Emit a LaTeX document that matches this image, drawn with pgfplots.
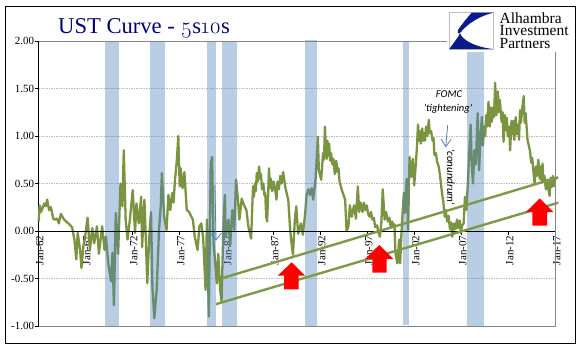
\documentclass[border=0pt]{standalone}
\usepackage{fontspec}
\setmainfont{Liberation Serif}
\newfontfamily\calib{Carlito}
\newfontfamily\oldnum[Numbers=OldStyle]{Latin Modern Roman}
\usepackage{pgfplots}
\pgfplotsset{compat=1.18}
\definecolor{cv}{HTML}{7A9440}
\definecolor{tr}{HTML}{7F9A47}
\definecolor{bd}{HTML}{4F81BD}
\definecolor{gl}{HTML}{BDBDBD}
\definecolor{ax}{HTML}{868686}
\definecolor{navy}{HTML}{0A1A8C}
\pgfplotstableread{
x y
1962.0 0.10
1962.1 0.27
1962.25 0.20
1962.4 0.24
1962.6 0.29
1962.75 0.26
1962.9 0.33
1963.1 0.22
1963.3 0.25
1963.55 0.13
1963.7 0.12
1963.95 0.13
1964.15 0.08
1964.35 0.18
1964.7 0.12
1965.15 0.08
1965.55 0.04
1965.8 -0.09
1966.0 -0.30
1966.15 -0.02
1966.4 -0.20
1966.55 -0.39
1966.75 -0.16
1966.9 -0.09
1967.2 0.14
1967.45 -0.20
1967.7 0.03
1967.9 -0.13
1968.2 0.05
1968.4 -0.24
1968.75 0.05
1969.0 -0.20
1969.15 -0.06
1969.4 -0.34
1969.7 -0.53
1969.85 -0.23
1970.0 -0.78
1970.2 0.19
1970.45 -0.24
1970.7 0.50
1970.9 0.26
1971.05 0.85
1971.25 0.12
1971.45 -0.09
1971.7 0.12
1972.0 0.43
1972.25 -0.02
1972.4 0.29
1972.65 0.08
1972.9 0.36
1973.0 -0.17
1973.25 0.33
1973.4 -0.10
1973.55 -0.55
1973.8 0.01
1973.95 0.20
1974.1 -0.59
1974.3 -0.92
1974.55 -0.62
1974.8 0.01
1975.0 0.29
1975.1 0.61
1975.35 0.15
1975.6 0.01
1975.8 0.38
1976.0 0.22
1976.2 0.40
1976.35 0.30
1976.5 0.54
1976.7 0.75
1976.85 1.0
1977.0 0.47
1977.1 0.66
1977.3 0.45
1977.5 0.62
1977.75 0.22
1978.0 0.20
1978.4 0.12
1978.6 -0.06
1978.9 -0.20
1979.1 0.05
1979.3 0.08
1979.5 -0.08
1979.75 -0.62
1979.9 0.12
1980.1 -0.90
1980.3 0.71
1980.45 0.78
1980.6 -0.13
1980.7 -0.24
1980.95 -0.55
1981.1 -0.24
1981.3 -0.62
1981.45 -0.74
1981.65 0.05
1981.8 0.38
1981.9 -0.06
1982.2 0.12
1982.35 -0.16
1982.6 0.22
1982.8 0.01
1983.0 0.54
1983.2 0.33
1983.35 0.12
1983.6 0.34
1983.85 0.27
1984.1 0.22
1984.3 0.05
1984.6 -0.08
1984.8 0.47
1984.9 0.36
1985.0 0.50
1985.1 0.42
1985.2 0.61
1985.3 0.52
1985.45 0.68
1985.55 0.55
1985.65 0.60
1985.75 0.44
1985.9 0.50
1986.0 0.38
1986.1 0.40
1986.2 0.15
1986.3 0.10
1986.4 0.35
1986.5 0.66
1986.6 0.45
1986.7 0.55
1986.85 0.42
1987.0 0.52
1987.15 0.44
1987.3 0.33
1987.4 0.52
1987.55 0.44
1987.7 0.58
1987.85 0.50
1988.0 0.62
1988.15 0.52
1988.25 0.45
1988.55 0.33
1988.75 0.01
1988.9 -0.13
1989.05 -0.25
1989.25 0.12
1989.4 0.26
1989.6 -0.03
1989.9 0.08
1990.1 -0.04
1990.35 0.19
1990.5 0.38
1990.7 0.44
1990.85 0.38
1991.05 0.45
1991.2 0.33
1991.45 0.54
1991.7 0.99
1991.8 0.64
1992.05 0.54
1992.25 0.82
1992.35 0.75
1992.45 1.10
1992.55 0.85
1992.65 0.76
1992.72 0.95
1992.8 0.80
1992.9 0.92
1993.0 0.74
1993.1 0.82
1993.25 0.70
1993.35 0.76
1993.5 0.60
1993.65 0.74
1993.8 0.62
1993.9 0.66
1994.0 0.52
1994.25 0.43
1994.6 0.33
1994.75 0.0
1994.95 0.05
1995.1 0.27
1995.3 0.15
1995.55 0.27
1995.75 0.13
1995.95 0.47
1996.1 0.20
1996.25 0.30
1996.45 0.20
1996.6 0.30
1996.75 0.22
1996.9 0.27
1997.05 0.18
1997.2 0.15
1997.35 0.20
1997.5 0.12
1997.65 0.14
1997.8 0.04
1998.0 0.06
1998.15 -0.02
1998.3 -0.06
1998.45 0.08
1998.6 0.44
1998.8 0.12
1998.95 0.20
1999.15 0.10
1999.3 0.14
1999.45 0.04
1999.6 0.10
1999.75 0.04
1999.85 0.07
1999.95 -0.23
2000.15 -0.34
2000.35 -0.09
2000.45 -0.34
2000.6 -0.01
2000.75 0.26
2000.85 0.40
2000.95 0.19
2001.15 0.55
2001.3 0.01
2001.45 0.78
2001.65 0.57
2001.8 0.76
2001.95 0.48
2002.15 0.75
2002.25 0.90
2002.35 1.12
2002.45 0.95
2002.55 1.05
2002.65 0.92
2002.8 1.08
2002.9 0.95
2003.0 1.03
2003.1 0.95
2003.2 1.10
2003.35 1.00
2003.5 1.17
2003.6 1.03
2003.75 1.05
2003.9 0.95
2004.0 0.98
2004.1 0.80
2004.25 0.82
2004.4 0.72
2004.55 0.68
2004.7 0.58
2004.9 0.40
2005.05 0.30
2005.2 0.15
2005.3 0.22
2005.45 0.10
2005.6 0.16
2005.75 0.02
2005.9 0.09
2006.0 -0.06
2006.2 0.08
2006.35 0.02
2006.5 0.12
2006.6 0.03
2006.8 0.11
2006.9 -0.02
2007.05 0.06
2007.2 0.08
2007.35 0.36
2007.5 0.22
2007.65 0.50
2007.8 0.82
2007.95 1.12
2008.05 0.75
2008.2 0.50
2008.35 0.85
2008.5 0.70
2008.7 1.24
2008.85 0.64
2009.0 0.99
2009.15 1.20
2009.25 0.90
2009.4 1.10
2009.5 1.00
2009.6 1.22
2009.7 1.10
2009.85 1.36
2010.0 1.10
2010.1 1.30
2010.2 1.15
2010.35 1.30
2010.45 1.20
2010.55 1.56
2010.7 1.22
2010.85 1.47
2010.95 1.25
2011.05 1.38
2011.25 1.15
2011.35 1.25
2011.45 0.94
2011.6 1.22
2011.7 1.06
2011.8 1.19
2011.9 1.00
2012.05 1.10
2012.15 0.85
2012.3 1.16
2012.4 1.02
2012.5 1.16
2012.6 0.96
2012.75 1.20
2012.85 1.02
2013.0 1.12
2013.1 0.96
2013.2 1.27
2013.3 1.14
2013.45 1.30
2013.6 1.42
2013.7 1.14
2013.8 1.24
2014.0 0.96
2014.25 0.85
2014.4 0.72
2014.5 0.77
2014.75 0.50
2014.9 0.68
2015.0 0.58
2015.15 0.75
2015.3 0.55
2015.4 0.68
2015.5 0.53
2015.6 0.71
2015.7 0.52
2015.8 0.58
2015.95 0.44
2016.1 0.54
2016.25 0.42
2016.35 0.37
2016.45 0.56
2016.55 0.46
2016.7 0.58
2016.8 0.47
2017.0 0.57
}\curve
\pgfplotsset{band/.style={fill=bd,fill opacity=0.4,draw=none,forget plot}}
\begin{document}
\begin{tikzpicture}[x=1bp,y=1bp]
\useasboundingbox (0,0) rectangle (587,361);
\begin{axis}[
  at={(38.7bp,35bp)},anchor=south west,scale only axis,
  width=517bp,height=285bp,
  xmin=1962,xmax=2017,ymin=-1,ymax=2,
  clip=false,
  axis x line=middle,axis y line=left,
  hide obscured x ticks=false,
  axis line style={black,line width=0.9bp,-},
  x axis line style={-},y axis line style={-},
  xtick={1962,1967,1972,1977,1982,1987,1992,1997,2002,2007,2012,2017},
  xticklabels={Jan-62,Jan-67,Jan-72,Jan-77,Jan-82,Jan-87,Jan-92,Jan-97,Jan-02,Jan-07,Jan-12,Jan-17},
  ytick={-1,-0.5,0,0.5,1,1.5,2},
  yticklabels={-1.00,-0.50,0.00,0.50,1.00,1.50,2.00},
  tick align=outside,
  tick style={black,line width=0.8bp},
  major tick length=3.5bp,
  x tick label style={rotate=90,anchor=east,font=\fontsize{11bp}{12bp}\selectfont,inner sep=1bp,yshift=-1bp},
  y tick label style={font=\fontsize{11bp}{12bp}\selectfont,inner sep=1bp},
  ymajorgrids,
  grid style={gl,dash pattern=on 1.5bp off 1bp,line width=0.6bp},
]
\addplot[cv,line width=2.3bp,line join=round] table[x=x,y=y] {\curve};
\addplot[band] coordinates {(1969.05,-1)(1969.05,2)(1970.54,2)(1970.54,-1)} -- cycle;
\addplot[band] coordinates {(1973.84,-1)(1973.84,2)(1975.44,2)(1975.44,-1)} -- cycle;
\addplot[band] coordinates {(1979.9,-1)(1979.9,2)(1980.86,2)(1980.86,-1)} -- cycle;
\addplot[band] coordinates {(1981.5,-1)(1981.5,2)(1983.1,2)(1983.1,-1)} -- cycle;
\addplot[band] coordinates {(1990.33,-1)(1990.33,2.01)(1991.6,2.01)(1991.6,-1)} -- cycle;
\addplot[band] coordinates {(2000.77,-0.99)(2000.77,2)(2001.4,2)(2001.4,-0.99)} -- cycle;
\addplot[band] coordinates {(2007.56,-1)(2007.56,2)(2009.37,2)(2009.37,-1)} -- cycle;
\addplot[black,line width=0.9bp,forget plot] coordinates {(1962,0)(2017,0)};
\addplot[tr,line width=2.4bp] coordinates {(1981.47,-0.498)(2017.28,0.565)};
\addplot[tr,line width=2.4bp] coordinates {(1980.86,-0.77)(2017.28,0.298)};
\end{axis}
\begin{scope}[shift={(0,361)},y=-1bp,x=1bp]
% frame lines
\draw[ax,line width=0.9bp] (38.7,41)--(447,41);
\draw[ax,line width=0.9bp] (38.7,326)--(555.7,326);
\fill[white] (447,7) rectangle (574.5,51.5);
\draw[ax,line width=0.9bp] (555.7,52)--(555.7,326);
\draw[black,line width=1bp] (5.5,6.5) rectangle (575.7,343.5);
% red arrows
\fill[red] (291.7,262.3)--(305,275.7)--(298.7,275.7)--(298.7,289.3)--(284,289.3)--(284,275.7)--(277.7,275.7)--cycle;
\fill[red] (379.3,245)--(393.3,259)--(386.7,259)--(386.7,272.7)--(372.3,272.7)--(372.3,259)--(365,259)--cycle;
\fill[red] (539.7,198.3)--(553.3,212)--(547,212)--(547,225.7)--(532.3,225.7)--(532.3,212)--(526,212)--cycle;
% blue arrows
\draw[bd,line width=0.8bp] (447.7,125)--(445.7,146.7);
\draw[bd,line width=0.8bp] (441,139)--(445.7,146.7)--(451,139.5);
\draw[bd,line width=0.8bp] (215,185)--(216,240);
\draw[bd,line width=0.8bp] (210,233)--(216,240)--(221.5,233);
% annotations
\node[font=\calib\itshape\fontsize{10.5bp}{12bp}\selectfont,text=black,inner sep=0] at (449,94) {FOMC};
\node[font=\calib\itshape\fontsize{10.5bp}{12bp}\selectfont,text=black,inner sep=0] at (448,109) {'tightening'};
\node[font=\calib\itshape\fontsize{11bp}{12bp}\selectfont,text=black,inner sep=0,rotate=-90] at (451,177) {'conundrum'};
% title
\node[anchor=base west,inner sep=0,text={rgb,255:red,0;green,0;blue,128},font=\fontsize{22.6bp}{24bp}\selectfont] at (58,33) {UST Curve - {\oldnum 5}s{\oldnum 10}s};
% logo
\draw[gray!50,line width=0.8bp,fill=white] (449.3,12.7) rectangle (493.3,49);
\fill[navy] (471.7,12.7)--(493.3,12.7) .. controls (480,16) and (468,23) .. (460,33) .. controls (459,34) and (457,34) .. (458,30) .. controls (462,24) and (467,18) .. cycle;
\fill[navy] (449.3,49)--(458,37)--(460,33) .. controls (462,40) and (475,47) .. (492.7,49)--cycle;
\tikzset{lg/.style={anchor=base west,inner sep=0,text height=9bp,text depth=1.5bp,font=\fontsize{15.5bp}{16bp}\selectfont}}
\node[lg] at (499.5,23) {Alhambra};
\node[lg] at (499.5,35.5) {Investment};
\node[lg] at (499.5,48) {Partners};
\end{scope}
\end{tikzpicture}
\end{document}
